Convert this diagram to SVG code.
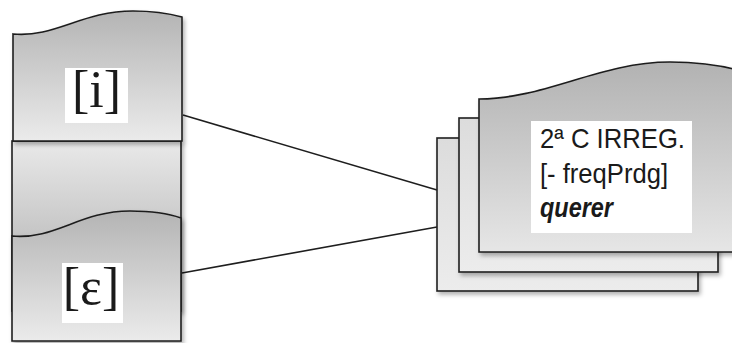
<svg xmlns="http://www.w3.org/2000/svg" width="732" height="343" viewBox="0 0 732 343">
  <style>
    .shape { stroke: #1e1e1e; stroke-width: 1.6; filter: url(#shadow); }
    .label-bg { fill: #ffffff; }
    .ipa { font-family: "Liberation Serif", "DejaVu Serif", serif; font-size: 52px; fill: #1a1a1a; }
    .info { font-family: "Liberation Sans", Arial, sans-serif; font-size: 28px; fill: #1a1a1a; }
    .edge { stroke: #1e1e1e; stroke-width: 1.6; fill: none; }
  </style>
  <defs>
    <linearGradient id="docFill" x1="0" y1="0" x2="0" y2="1">
      <stop offset="0" stop-color="#b4b4b4"/>
      <stop offset="1" stop-color="#ebebeb"/>
    </linearGradient>
    <linearGradient id="midFill" x1="0" y1="0" x2="0" y2="1">
      <stop offset="0" stop-color="#e9e9e9"/>
      <stop offset="1" stop-color="#a9a9a9"/>
    </linearGradient>
    <linearGradient id="frontFill" x1="0" y1="0" x2="0" y2="1">
      <stop offset="0" stop-color="#b2b2b2"/>
      <stop offset="1" stop-color="#e6e6e6"/>
    </linearGradient>
    <linearGradient id="pageFill" x1="0" y1="0" x2="0" y2="1">
      <stop offset="0" stop-color="#dcdcdc"/>
      <stop offset="1" stop-color="#ececec"/>
    </linearGradient>
    <filter id="shadow" x="-10%" y="-10%" width="130%" height="130%">
      <feDropShadow dx="2" dy="3" stdDeviation="2" flood-color="#000" flood-opacity="0.3"/>
    </filter>
  </defs>

  <!-- connectors -->
  <g id="connectors">
    <line class="edge" x1="183" y1="115" x2="437" y2="190"/>
    <line class="edge" x1="182" y1="273" x2="437" y2="227"/>
  </g>

  <!-- middle filler block between the two phone cards -->
  <g id="middle-block">
    <rect class="shape" x="12" y="141" width="169" height="170" fill="url(#midFill)"/>
  </g>

  <!-- [i] card -->
  <g id="node-i">
    <path class="shape" d="M13,34 C55,38 82,11 133,11 C158,11 171,14 182,17 L182,141 L13,141 Z" fill="url(#docFill)"/>
    <rect class="label-bg" x="65" y="68" width="63" height="55"/>
    <text class="ipa" x="96.5" y="107" text-anchor="middle">[i]</text>
  </g>

  <!-- [ε] card -->
  <g id="node-e">
    <path class="shape" d="M12,236 C55,240 80,211 130,211 C155,211 170,214 181,218 L181,341 L12,341 Z" fill="url(#docFill)"/>
    <rect class="label-bg" x="62" y="263" width="61" height="60"/>
    <text class="ipa" x="91" y="304" text-anchor="middle">[ε]</text>
  </g>

  <!-- stacked class cards -->
  <g id="node-class">
    <rect class="shape" x="437" y="138" width="261" height="153" fill="url(#pageFill)"/>
    <rect class="shape" x="459" y="118" width="259" height="154" fill="url(#pageFill)"/>
    <path class="shape" d="M479,99 C545,99 600,62 670,62 C700,62 725,66 745,72 L745,252 L479,252 Z" fill="url(#frontFill)"/>
    <rect class="label-bg" x="531" y="121" width="161" height="112"/>
    <text class="info" x="540" y="148" textLength="145" lengthAdjust="spacingAndGlyphs">2ª C IRREG.</text>
    <text class="info" x="540" y="183" textLength="128" lengthAdjust="spacingAndGlyphs">[- freqPrdg]</text>
    <text class="info" x="540" y="217" font-style="italic" font-weight="bold" textLength="73" lengthAdjust="spacingAndGlyphs">querer</text>
  </g>
</svg>
